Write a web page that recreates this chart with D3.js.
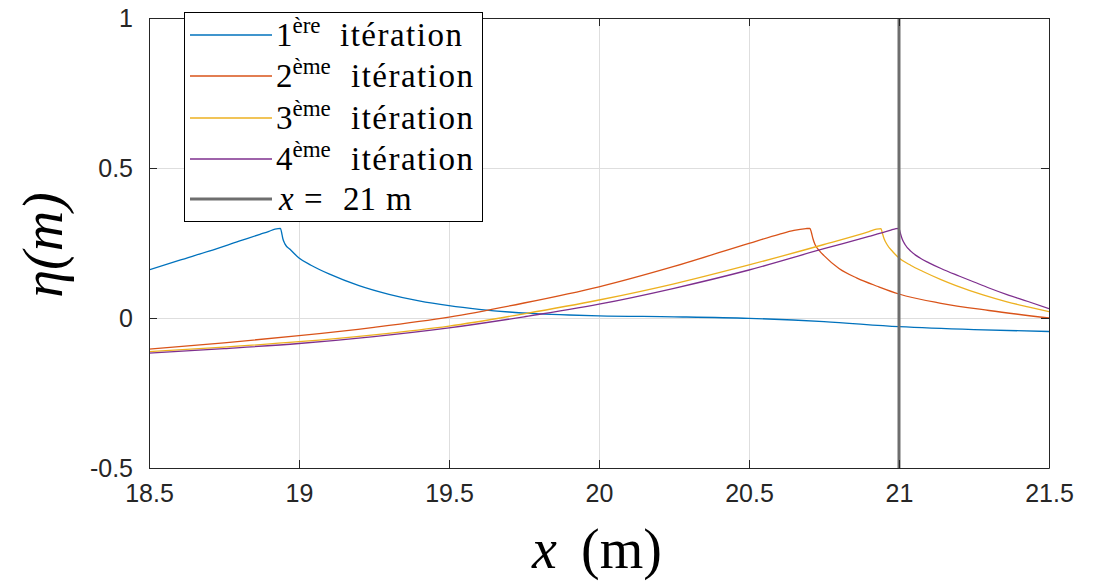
<!DOCTYPE html>
<html><head><meta charset="utf-8">
<script src="https://cdn.jsdelivr.net/npm/d3@7"></script>
<style>body{margin:0;background:#fff;} svg{display:block;}</style>
</head><body>
<svg id="chart" width="1102" height="581"></svg>
<script>
// ---- data ----
const xTicks = [18.5, 19, 19.5, 20, 20.5, 21, 21.5];
const xTickLabels = ["18.5", "19", "19.5", "20", "20.5", "21", "21.5"];
const yTicks = [-0.5, 0, 0.5, 1];
const yTickLabels = ["-0.5", "0", "0.5", "1"];
const seriesNames = ["1", "2", "3", "4"];
const seriesSup = ["ère", "ème", "ème", "ème"];
const seriesColors = ["#0072BD", "#D95319", "#EDB120", "#7E2F8E"];

const iter1X = [18.5, 18.6, 18.7, 18.8, 18.87, 18.9, 18.92, 18.938, 18.942, 18.946, 18.953, 18.97, 19.0, 19.04, 19.1, 19.2, 19.3, 19.4, 19.5, 19.6, 19.7, 19.8, 19.9, 20.0, 20.25, 20.5, 20.75, 21.0, 21.25, 21.5];
const iter1Y = [0.16, 0.192, 0.223, 0.256, 0.279, 0.289, 0.296, 0.299, 0.285, 0.265, 0.247, 0.229, 0.2, 0.176, 0.147, 0.108, 0.079, 0.057, 0.041, 0.029, 0.02, 0.014, 0.01, 0.007, 0.004, -0.001, -0.012, -0.029, -0.039, -0.045];

const iter2X = [18.5, 18.75, 19.0, 19.25, 19.5, 19.75, 20.0, 20.25, 20.5, 20.6, 20.65, 20.69, 20.703, 20.708, 20.713, 20.72, 20.735, 20.75, 20.8, 20.86, 20.93, 21.0, 21.14, 21.3, 21.5];
const iter2Y = [-0.104, -0.083, -0.059, -0.031, 0.003, 0.05, 0.104, 0.172, 0.249, 0.279, 0.292, 0.298, 0.299, 0.285, 0.265, 0.245, 0.224, 0.208, 0.165, 0.133, 0.105, 0.08, 0.049, 0.025, 0.0];

const iter3X = [18.5, 18.75, 19.0, 19.25, 19.5, 19.75, 20.0, 20.25, 20.5, 20.75, 20.9, 20.925, 20.94, 20.944, 20.95, 20.96, 20.98, 21.0, 21.04, 21.08, 21.14, 21.19, 21.28, 21.36, 21.43, 21.5];
const iter3Y = [-0.112, -0.097, -0.079, -0.056, -0.027, 0.014, 0.06, 0.114, 0.177, 0.245, 0.288, 0.296, 0.298, 0.285, 0.265, 0.245, 0.22, 0.2, 0.175, 0.155, 0.128, 0.108, 0.077, 0.054, 0.037, 0.021];

const iter4X = [18.5, 18.75, 19.0, 19.25, 19.5, 19.75, 20.0, 20.25, 20.5, 20.75, 20.9, 20.97, 20.99, 21.0, 21.004, 21.01, 21.02, 21.04, 21.07, 21.1, 21.14, 21.2, 21.25, 21.3, 21.36, 21.43, 21.5];
const iter4Y = [-0.117, -0.102, -0.085, -0.062, -0.033, 0.004, 0.046, 0.099, 0.16, 0.231, 0.272, 0.292, 0.298, 0.299, 0.285, 0.265, 0.245, 0.222, 0.2, 0.184, 0.165, 0.14, 0.12, 0.1, 0.078, 0.055, 0.031];

const refX = 21;

// ---- layout ----
const svg = d3.select("#chart");
const L = 149, R = 1049, T = 18, B = 468;
const x = d3.scaleLinear().domain([18.5, 21.5]).range([L, R]);
const y = d3.scaleLinear().domain([-0.5, 1]).range([B, T]);
const axisColor = "#262626";
const tickFont = "'Liberation Sans', Arial, sans-serif";
const serif = "'Liberation Serif', 'Times New Roman', serif";

svg.append("rect").attr("x", L).attr("y", T).attr("width", R - L).attr("height", B - T).attr("fill", "#fff");

// grid
const grid = svg.append("g").attr("stroke", "#dedede").attr("stroke-width", 1);
xTicks.forEach(t => grid.append("line").attr("x1", Math.round(x(t)) + 0.5).attr("x2", Math.round(x(t)) + 0.5).attr("y1", T).attr("y2", B));
yTicks.forEach(t => grid.append("line").attr("y1", Math.round(y(t)) + 0.5).attr("y2", Math.round(y(t)) + 0.5).attr("x1", L).attr("x2", R));

// series
const line = d3.line().x(d => x(d[0])).y(d => y(d[1])).curve(d3.curveMonotoneX);
const series = [[iter1X, iter1Y], [iter2X, iter2Y], [iter3X, iter3Y], [iter4X, iter4Y]];
svg.append("clipPath").attr("id", "clip").append("rect").attr("x", L).attr("y", T).attr("width", R - L).attr("height", B - T);
const plotG = svg.append("g").attr("clip-path", "url(#clip)");
series.forEach((s, i) => {
  const pts = s[0].map((v, j) => [v, s[1][j]]);
  plotG.append("path").datum(pts).attr("d", line).attr("fill", "none")
    .attr("stroke", seriesColors[i]).attr("stroke-width", 1.3).attr("stroke-linejoin", "round");
});
// vertical reference line
plotG.append("line").attr("x1", x(refX)).attr("x2", x(refX)).attr("y1", T).attr("y2", B)
  .attr("stroke", "#6e6e6e").attr("stroke-width", 3);

// axes (box with inward ticks)
const xAxisB = d3.axisBottom(x).tickValues(xTicks).tickFormat((d, i) => xTickLabels[i]).tickSizeInner(-8).tickSizeOuter(0).tickPadding(16);
const xAxisT = d3.axisTop(x).tickValues(xTicks).tickFormat("").tickSizeInner(-8).tickSizeOuter(0);
const yAxisL = d3.axisLeft(y).tickValues(yTicks).tickFormat((d, i) => yTickLabels[i]).tickSizeInner(-8).tickSizeOuter(0).tickPadding(16);
const yAxisR = d3.axisRight(y).tickValues(yTicks).tickFormat("").tickSizeInner(-8).tickSizeOuter(0);

function styleAxis(g) {
  g.selectAll("path").attr("stroke", axisColor).attr("stroke-width", 1);
  g.selectAll("line").attr("stroke", axisColor).attr("stroke-width", 1);
  g.selectAll("text").attr("fill", axisColor).attr("font-family", tickFont).attr("font-size", 25);
}
svg.append("g").attr("transform", `translate(0,${B})`).call(xAxisB).call(styleAxis);
svg.append("g").attr("transform", `translate(0,${T})`).call(xAxisT).call(styleAxis);
svg.append("g").attr("transform", `translate(${L},0)`).call(yAxisL).call(styleAxis);
svg.append("g").attr("transform", `translate(${R},0)`).call(yAxisR).call(styleAxis);

// axis labels
const xl = svg.append("text").attr("y", 568)
  .attr("font-family", serif).attr("font-size", 56).attr("fill", "#000");
xl.append("tspan").attr("x", 532).attr("font-style", "italic").text("x");
xl.append("tspan").attr("x", 581).text("(m)");

const yl = svg.append("text").attr("transform", "translate(62,245) rotate(-90)").attr("text-anchor", "middle")
  .attr("font-family", serif).attr("font-size", 56).attr("font-style", "italic").attr("fill", "#000");
yl.text("η(m)");

// legend
const lg = svg.append("g");
lg.append("rect").attr("x", 184.5).attr("y", 12.5).attr("width", 298).attr("height", 209)
  .attr("fill", "#fff").attr("stroke", "#000").attr("stroke-width", 1);
const rowY = [35, 76, 118, 159, 199];
const wordX = [340, 351, 351, 351];
seriesColors.forEach((c, i) => {
  lg.append("line").attr("x1", 190).attr("x2", 272).attr("y1", rowY[i]).attr("y2", rowY[i])
    .attr("stroke", c).attr("stroke-width", 1.3);
  const t = lg.append("text").attr("y", rowY[i] + 11)
    .attr("font-family", serif).attr("font-size", 33).attr("fill", "#000");
  t.append("tspan").attr("x", 276).text(seriesNames[i]);
  t.append("tspan").attr("font-size", 23).attr("dy", -13).text(seriesSup[i]);
  t.append("tspan").attr("x", wordX[i]).attr("dy", 13).attr("letter-spacing", 1.5).text("itération");
});
lg.append("line").attr("x1", 190).attr("x2", 272).attr("y1", rowY[4]).attr("y2", rowY[4])
  .attr("stroke", "#6e6e6e").attr("stroke-width", 3);
const tr = lg.append("text").attr("y", rowY[4] + 11)
  .attr("font-family", serif).attr("font-size", 33).attr("fill", "#000");
tr.append("tspan").attr("x", 279).attr("font-style", "italic").text("x");
tr.append("tspan").attr("x", 304).text("=");
tr.append("tspan").attr("x", 343).text("21");
tr.append("tspan").attr("x", 386).text("m");
</script>
</body></html>
